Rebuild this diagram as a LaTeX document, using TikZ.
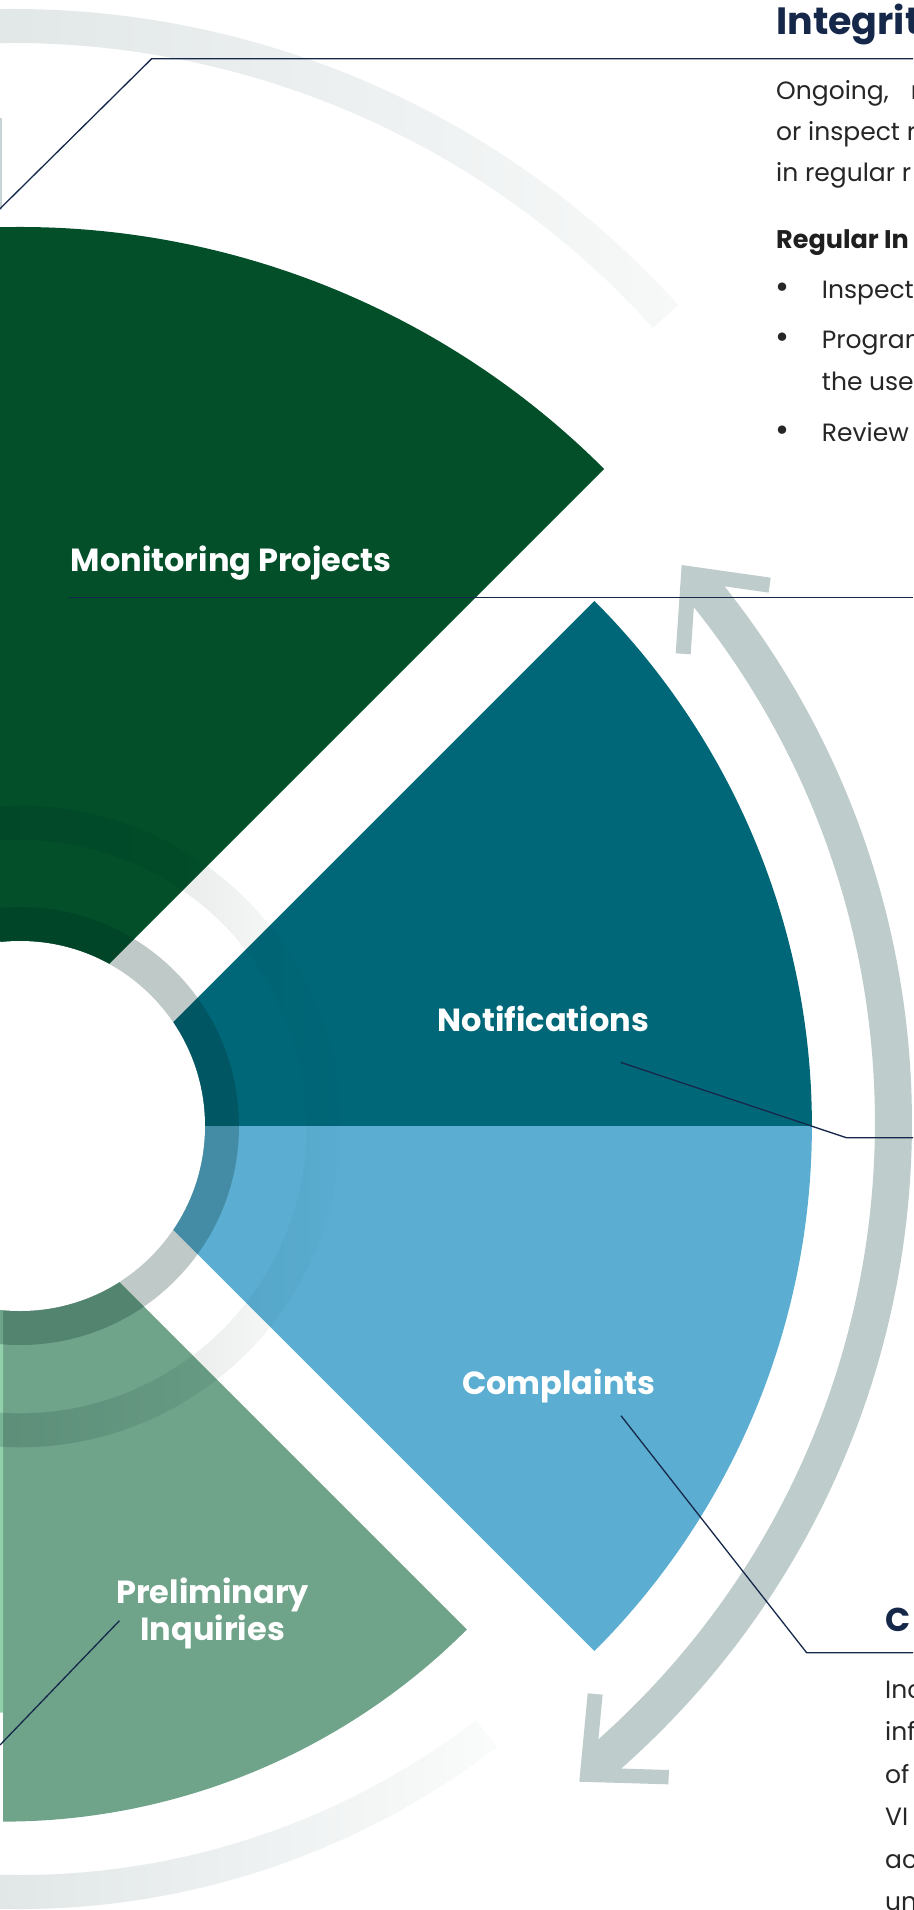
\documentclass[tikz,border=0pt]{standalone}
\usepackage{fontspec}
\setmainfont{Poppins}
\usetikzlibrary{fadings}
\definecolor{forest}{RGB}{2,79,42}
\definecolor{petrol}{RGB}{0,103,120}
\definecolor{skyblue}{RGB}{91,174,210}
\definecolor{sage}{RGB}{111,163,138}
\definecolor{mint}{RGB}{145,208,171}
\definecolor{arrowgrey}{RGB}{190,204,203}
\definecolor{mist}{RGB}{223,229,229}
\definecolor{sliver}{RGB}{200,211,216}
\definecolor{ringtint}{RGB}{0,40,38}
\definecolor{navy}{RGB}{22,40,74}
\definecolor{ink}{RGB}{38,38,38}

\begin{document}
\begin{tikzpicture}[x=1pt, y=1pt,
        leader/.style={draw=navy, line width=1.3pt},
        label/.style={text=white, inner sep=0pt, font=\bfseries\fontsize{32}{36.6}\selectfont},
        heading/.style={text=navy, inner sep=0pt, anchor=base west, font=\bfseries\fontsize{38}{44}\selectfont},
        body/.style={text=ink, inner sep=0pt, anchor=base west, font=\fontsize{25}{30}\selectfont},
        subhead/.style={text=black!88, inner sep=0pt, anchor=base west, font=\bfseries\fontsize{25.5}{30}\selectfont},
        dot/.style={text=black!85, inner sep=0pt, anchor=base, font=\fontsize{34}{34}\selectfont}
    ]
    \useasboundingbox (0,0) rectangle (913,-1910);
    \fill[white] (0,0) rectangle (913,-1910);

    \coordinate (hub) at (20,-1126);
    \coordinate (turn) at (50,-1123);

    % faint outer bands
    \shade[left color=mist, right color=mist!25!white]
        ([shift={(13,-904)}]96:895) arc[start angle=96, end angle=42, radius=895]
        -- ([shift={(13,-904)}]42:861) arc[start angle=42, end angle=96, radius=861] -- cycle;
    \shade[left color=mist, right color=mist!15!white]
        ([shift={(hub)}]-94:783) arc[start angle=-94, end angle=-52.5, radius=783]
        -- ([shift={(hub)}]-52.5:749) arc[start angle=-52.5, end angle=-94, radius=749] -- cycle;
    \fill[sliver] (0,-118) rectangle (1.5,-210);

    % wedges
    \fill[forest] (20,-1053) -- ++(45:826) arc[start angle=45, end angle=100, radius=826] -- cycle;
    \fill[petrol] (69.4,-1126) -- ++(0:742.5) arc[start angle=0, end angle=45, radius=742.5] -- cycle;
    \fill[skyblue] (69.4,-1126) -- ++(-45:742.5) arc[start angle=-45, end angle=0, radius=742.5] -- cycle;
    \fill[sage] (3,-1165.6) -- ++(-90:656) arc[start angle=-90, end angle=-45, radius=656] -- cycle;
    \fill[mint] (3,-1165.6) -- ++(-135:547) arc[start angle=-135, end angle=-90, radius=547] -- cycle;

    % rings round the hub
    \fill[ringtint, fill opacity=0.18, path fading=east]
        ([shift={(hub)}]100:321) arc[start angle=100, end angle=-100, radius=321]
        -- ([shift={(hub)}]-100:287) arc[start angle=-100, end angle=100, radius=287] -- cycle;
    \fill[white] (hub) circle[radius=185];
    \draw[ringtint, draw opacity=0.25, line width=34pt] (hub) circle[radius=202];

    % cycle arrow
    \fill[arrowgrey] ([shift={(turn)}]38.51:862) arc[start angle=38.51, end angle=-48.5, radius=862]
        -- (669,-1770) -- (668.3,-1784.3) -- (579.3,-1781.7) -- (587.7,-1693.3) -- (602.6,-1694.7)
        -- ([shift={(turn)}]-48.34:825) arc[start angle=-48.34, end angle=38.7, radius=825]
        -- (690.7,-654.3) -- (675.7,-653.3) -- (681.7,-565) -- (770.7,-577.7) -- (768.6,-592.6) -- cycle;

    % leader lines
    \coordinate (integrity-in) at (0,-208.7);
    \coordinate (integrity-knee) at (151.6,-58.8);
    \coordinate (integrity-out) at (913,-58.8);
    \coordinate (monitor-in) at (69,-597.5);
    \coordinate (monitor-out) at (913,-597.5);
    \coordinate (notif-in) at (620.7,-1062.4);
    \coordinate (notif-knee) at (846.7,-1137.8);
    \coordinate (notif-out) at (913,-1137.8);
    \coordinate (compl-in) at (621,-1415.7);
    \coordinate (compl-knee) at (806.7,-1652.8);
    \coordinate (compl-out) at (913,-1652.8);
    \coordinate (prelim-in) at (119.4,-1620.7);
    \coordinate (prelim-out) at (0,-1745);

    \draw[leader] (integrity-in) -- (integrity-knee) -- (integrity-out);
    \draw[leader] (monitor-in) -- (monitor-out);
    \draw[leader] (notif-in) -- (notif-knee) -- (notif-out);
    \draw[leader] (compl-in) -- (compl-knee) -- (compl-out);
    \draw[leader] (prelim-in) -- (prelim-out);

    % wedge labels
    \node[label, anchor=base west] (monitor) at (70.6,-571) {Monitoring Projects};
    \node[label, anchor=base] (notif) at (543.5,-1031.5) {Notifications};
    \node[label, anchor=base] (compl) at (558.8,-1394.5) {Complaints};
    \node[label, align=center, anchor=north] (prelim) at (212.7,-1578) {Preliminary\\Inquiries};

    % text column, top (justified lines run to the edge)
    \node[heading] (integrity) at (776,-35) {Integrit};
    \node[body] (introA) at (776,-99.5) {Ongoing,\hspace{22pt}r};
    \node[body] (introB) at (776,-141) {or inspect r};
    \node[body] (introC) at (776,-182) {in regular r};
    \node[subhead] (regular) at (776,-248.3) {Regular In};
    \node[dot] (dotA) at (782.7,-298.3) {•};
    \node[body] (itemA) at (821.7,-298.3) {Inspect};
    \node[dot] (dotB) at (782.7,-348.3) {•};
    \node[body] (itemB) at (821.7,-348.3) {Program};
    \node[body] (itemB2) at (821.7,-390) {the use};
    \node[dot] (dotC) at (782.7,-441.7) {•};
    \node[body] (itemC) at (821.7,-441.7) {Review};

    % text column, bottom
    \node[heading, font=\bfseries\fontsize{33}{40}\selectfont] (complhead) at (885,-1631.7) {C};
    \node[body] (complA) at (885,-1698.5) {Inc};
    \node[body] (complB) at (885,-1740.9) {inf};
    \node[body] (complC) at (885,-1783.3) {of};
    \node[body] (complD) at (885,-1825.7) {VI};
    \node[body] (complE) at (885,-1868.1) {ac};
    \node[body] (complF) at (885,-1910.5) {un};
\end{tikzpicture}
\end{document}
